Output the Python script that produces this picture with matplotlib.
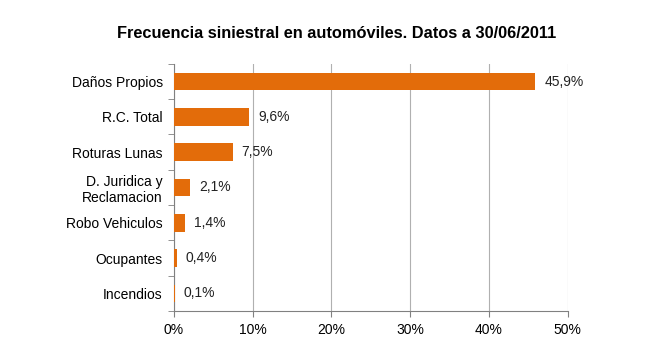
import matplotlib
matplotlib.use("Agg")
import matplotlib.pyplot as plt
from matplotlib.ticker import FuncFormatter

# datos del gráfico
categorias = ["Daños Propios", "R.C. Total", "Roturas Lunas", "D. Juridica y\nReclamacion",
              "Robo Vehiculos", "Ocupantes", "Incendios"]
valores = [45.9, 9.6, 7.5, 2.1, 1.4, 0.4, 0.1]
etiquetas = ["45,9%", "9,6%", "7,5%", "2,1%", "1,4%", "0,4%", "0,1%"]
ticks_x = [0, 10, 20, 30, 40, 50]

plt.rcParams['font.family'] = ['Liberation Sans', 'DejaVu Sans']

fig = plt.figure(figsize=(6.61, 3.53), dpi=100)
ax = fig.add_axes([0.263, 0.119, 0.596, 0.700])

pos = list(range(len(categorias)))
ax.barh(pos, valores, height=0.5, color='#E36C0A', zorder=3)
for p, v, t in zip(pos, valores, etiquetas):
    ax.text(v + 1.1, p, t, va='center', ha='left', fontsize=10, color='#222222')

ax.set_ylim(len(categorias) - 0.5, -0.5)
ax.set_xlim(0, 50)
ax.set_xticks(ticks_x)
ax.xaxis.set_major_formatter(FuncFormatter(lambda x, _: "%d%%" % x))
ax.set_yticks(pos)
ax.set_yticklabels(categorias, fontsize=10, linespacing=1.2)
ax.set_yticks([p - 0.5 for p in pos] + [len(pos) - 0.5], minor=True)
ax.tick_params(axis='y', which='major', length=0, pad=8)
ax.tick_params(axis='y', which='minor', length=4, color='#808080')
ax.tick_params(axis='x', length=4, color='#808080', labelsize=10, pad=5)

ax.grid(axis='x', color='#b0b0b0', linewidth=0.8, zorder=0)
for s in ['top', 'right']:
    ax.spines[s].set_visible(False)
ax.spines['left'].set_color('#808080')
ax.spines['bottom'].set_color('#808080')

fig.text(0.51, 0.905, "Frecuencia siniestral en automóviles. Datos a 30/06/2011",
         ha='center', va='center', fontsize=11.8, fontweight='bold')

fig.savefig("out.png", dpi=100, facecolor='white')
